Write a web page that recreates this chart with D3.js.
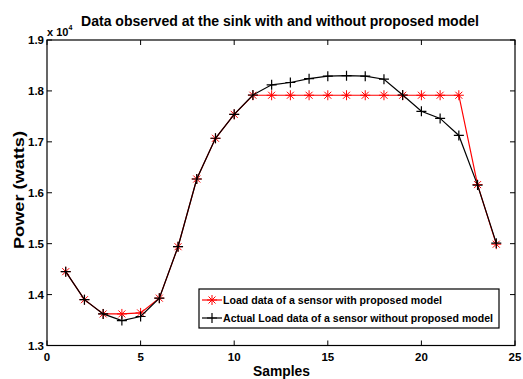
<!DOCTYPE html>
<html>
<head>
<meta charset="utf-8">
<script src="https://cdn.jsdelivr.net/npm/d3@7"></script>
<style>
  body { margin: 0; background: #fff; }
  text { font-family: "Liberation Sans", Arial, sans-serif; font-weight: bold; }
</style>
</head>
<body>
<svg class="chart" width="523" height="379"></svg>
<script>
// data (watts)
const samples = d3.range(1, 25)
const withModel = [14450, 13900, 13620, 13620, 13640, 13930, 14940, 16270, 17070, 17540,
  17915, 17915, 17915, 17915, 17915, 17915, 17915, 17915, 17915, 17915, 17915, 17915, 16160, 14990]
const withoutModel = [14450, 13900, 13620, 13490, 13570, 13930, 14940, 16270, 17070, 17540,
  17920, 18120, 18165, 18240, 18290, 18300, 18290, 18230, 17920, 17600, 17460, 17125, 16150, 15010]
const xTicks = [0, 5, 10, 15, 20, 25]
const yTicks = [13000, 14000, 15000, 16000, 17000, 18000, 19000]
const seriesNames = ["Load data of a sensor with proposed model",
  "Actual Load data of a sensor without proposed model"]

const svg = d3.select("svg.chart")

const x = d3.scaleLinear().domain([0, 25]).range([47, 515])
const y = d3.scaleLinear().domain([13000, 19000]).range([345.5, 40])

// box
svg.append("rect")
  .attr("x", x(0)).attr("y", y(19000))
  .attr("width", x(25) - x(0)).attr("height", y(13000) - y(19000))
  .attr("fill", "none").attr("stroke", "#000").attr("stroke-width", 1.2)

// ticks (inside, on all four sides)
const tickLen = 5
const tg = svg.append("g").attr("stroke", "#000").attr("stroke-width", 1)
xTicks.forEach(t => {
  tg.append("line").attr("x1", x(t)).attr("x2", x(t)).attr("y1", y(13000)).attr("y2", y(13000) - tickLen)
  tg.append("line").attr("x1", x(t)).attr("x2", x(t)).attr("y1", y(19000)).attr("y2", y(19000) + tickLen)
})
yTicks.forEach(t => {
  tg.append("line").attr("x1", x(0)).attr("x2", x(0) + tickLen).attr("y1", y(t)).attr("y2", y(t))
  tg.append("line").attr("x1", x(25)).attr("x2", x(25) - tickLen).attr("y1", y(t)).attr("y2", y(t))
})

svg.append("g").selectAll("text")
  .data(xTicks).enter().append("text")
  .attr("x", d => x(d)).attr("y", y(13000) + 15)
  .attr("text-anchor", "middle").style("font-size", "11.5px")
  .text(d => d)

svg.append("g").selectAll("text")
  .data(yTicks).enter().append("text")
  .attr("x", x(0) - 3).attr("y", d => y(d) + 4)
  .attr("text-anchor", "end").style("font-size", "11.5px")
  .text(d => d3.format(".1f")(d / 10000))

// exponent
const ex = svg.append("text").attr("x", 47).attr("y", 35.5).style("font-size", "11px")
ex.append("tspan").text("x 10")
ex.append("tspan").attr("dy", -6).style("font-size", "7px").text("4")

// title and axis labels
svg.append("text").attr("x", 81).attr("y", 25.5)
  .attr("textLength", 398).attr("lengthAdjust", "spacingAndGlyphs")
  .style("font-size", "14px").text("Data observed at the sink with and without proposed model")
svg.append("text").attr("x", 253).attr("y", 375.5)
  .attr("textLength", 57).attr("lengthAdjust", "spacingAndGlyphs")
  .style("font-size", "15.5px").text("Samples")
svg.append("text")
  .attr("transform", "translate(24,249)rotate(-90)")
  .attr("textLength", 118).attr("lengthAdjust", "spacingAndGlyphs")
  .style("font-size", "15px").text("Power (watts)")

// lines
const line = d3.line().x((d, i) => x(samples[i])).y(d => y(d))

function star(g, cx, cy, r, color) {
  const a = r * 0.7
  g.append("path")
    .attr("d", `M${cx - r},${cy}H${cx + r}M${cx},${cy - r}V${cy + r}M${cx - a},${cy - a}L${cx + a},${cy + a}M${cx - a},${cy + a}L${cx + a},${cy - a}`)
    .attr("stroke", color).attr("stroke-width", 1).attr("fill", "none")
}
function plus(g, cx, cy, r, color) {
  g.append("path")
    .attr("d", `M${cx - r},${cy}H${cx + r}M${cx},${cy - r}V${cy + r}`)
    .attr("stroke", color).attr("stroke-width", 1.2).attr("fill", "none")
}

svg.append("path").datum(withModel).attr("d", line)
  .attr("fill", "none").attr("stroke", "#ff0000").attr("stroke-width", 1.2)
const redG = svg.append("g")
withModel.forEach((d, i) => star(redG, x(samples[i]), y(d), 5, "#ff0000"))

svg.append("path").datum(withoutModel).attr("d", line)
  .attr("fill", "none").attr("stroke", "#000").attr("stroke-width", 1.2)
const blackG = svg.append("g")
withoutModel.forEach((d, i) => plus(blackG, x(samples[i]), y(d), 5, "#000"))

// legend
const lg = svg.append("g")
lg.append("rect").attr("x", 199).attr("y", 289).attr("width", 300).attr("height", 39)
  .attr("fill", "#fff").attr("stroke", "#000").attr("stroke-width", 1.2)
const rows = [300, 318]
const textLens = [219, 270]
lg.append("line").attr("x1", 202).attr("x2", 222).attr("y1", rows[0]).attr("y2", rows[0])
  .attr("stroke", "#ff0000").attr("stroke-width", 1.2)
star(lg, 212, rows[0], 5, "#ff0000")
lg.append("line").attr("x1", 202).attr("x2", 222).attr("y1", rows[1]).attr("y2", rows[1])
  .attr("stroke", "#000").attr("stroke-width", 1.2)
plus(lg, 212, rows[1], 5, "#000")
lg.selectAll("text.leg").data(seriesNames).enter().append("text")
  .attr("class", "leg")
  .attr("x", 223).attr("y", (d, i) => rows[i] + 4)
  .attr("textLength", (d, i) => textLens[i]).attr("lengthAdjust", "spacingAndGlyphs")
  .style("font-size", "11px").text(d => d)
</script>
</body>
</html>
